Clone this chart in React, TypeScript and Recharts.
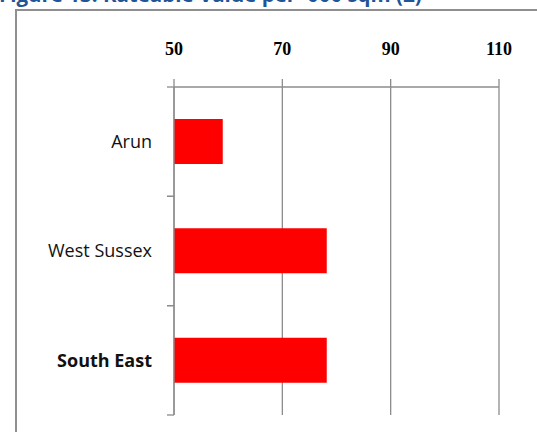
import React from "react";
import { Bar, BarChart, CartesianGrid, XAxis, YAxis } from "recharts";

const categories = ["Arun", "West Sussex", "South East"];
const values = [59, 78.2, 78.2];
const xTicks = [50, 70, 90, 110];
const boldRows = ["South East"];

const data = categories.map((name, i) => ({ name, value: values[i] }));

const gridColor = "#8c8c8c";

function CategoryTick(props: any) {
  const { x, y, payload } = props;
  const half = payload.offset ?? 0;
  return (
    <g>
      <line x1={x - 7} x2={x} y1={y - half} y2={y - half} stroke={gridColor} strokeWidth={1.3} />
      <line x1={x - 7} x2={x} y1={y + half} y2={y + half} stroke={gridColor} strokeWidth={1.3} />
      <text
        x={x - 22}
        y={y}
        dy="0.35em"
        textAnchor="end"
        fill="#111"
        fontFamily="'Open Sans', sans-serif"
        fontSize={18}
        fontWeight={boldRows.includes(payload.value) ? 700 : 400}
      >
        {payload.value}
      </text>
    </g>
  );
}

export default function App() {
  return (
    <div
      style={{
        position: "fixed",
        left: 0,
        top: 0,
        width: 537,
        height: 432,
        overflow: "hidden",
        background: "#fff",
      }}
    >
      <div
        style={{
          position: "absolute",
          left: 15,
          top: 9,
          width: 600,
          height: 500,
          borderLeft: "2px solid #8f8f8f",
          borderTop: "2px solid #8f8f8f",
        }}
      />
      <div style={{ position: "absolute", left: 0, top: 0 }}>
        <BarChart
          width={537}
          height={432}
          data={data}
          layout="vertical"
          margin={{ top: 0, right: 38, bottom: 17, left: 0 }}
          barSize={45}
        >
          <text
            x={-1}
            y={2}
            fill="#1f5597"
            fontFamily="'Open Sans', sans-serif"
            fontWeight={700}
            fontSize={20.5}
          >
            Figure 13: Rateable Value per '000 sqm (£)
          </text>
          <CartesianGrid horizontal={false} stroke={gridColor} strokeWidth={1.3} />
          <XAxis
            type="number"
            orientation="top"
            domain={[50, 110]}
            ticks={xTicks}
            height={87}
            tickSize={8}
            tickMargin={24}
            stroke={gridColor}
            strokeWidth={1.3}
            tick={{
              fill: "#000",
              fontFamily: "'Liberation Serif', serif",
              fontWeight: 700,
              fontSize: 18,
            }}
          />
          <YAxis
            type="category"
            dataKey="name"
            width={174}
            tickLine={false}
            tickSize={0}
            tickMargin={0}
            stroke={gridColor}
            strokeWidth={1.3}
            tick={<CategoryTick />}
          />
          <Bar dataKey="value" fill="#ff0000" isAnimationActive={false} />
        </BarChart>
      </div>
    </div>
  );
}
